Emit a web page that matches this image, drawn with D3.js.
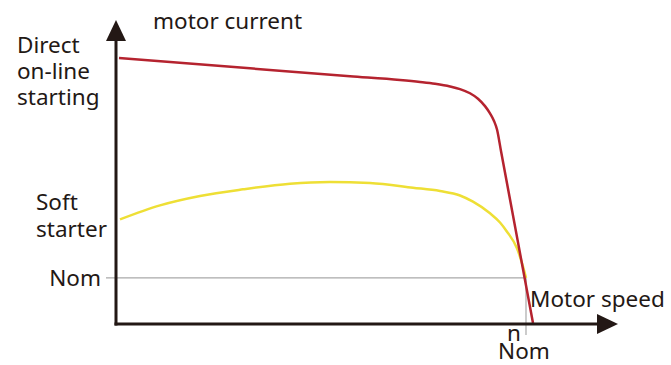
<!DOCTYPE html>
<html><head><meta charset="utf-8">
<script src="https://cdn.jsdelivr.net/npm/d3@7"></script>
<style>html,body{margin:0;padding:0;background:#fff;}svg{display:block;}text{font-family:"Noto Sans","Open Sans",sans-serif;fill:#231815;}</style>
</head><body>
<script>
// speed as fraction of nominal speed, current as multiple of nominal current
const directSpeed   = [0.0073, 0.3268, 0.5707, 0.6927, 0.7415, 0.7780, 0.8146, 0.8390, 0.8634, 0.8829, 0.9000, 0.9122, 0.9220, 0.9293, 0.9390, 1.0171];
const directCurrent = [5.775, 5.551, 5.379, 5.297, 5.254, 5.215, 5.158, 5.100, 5.009, 4.890, 4.730, 4.573, 4.408, 4.222, 3.756, 0.022];
const softSpeed   = [0.0098, 0.1073, 0.2049, 0.3098, 0.4244, 0.5220, 0.6195, 0.7244, 0.7902, 0.8390, 0.8707, 0.9122, 0.9366, 0.9537, 0.9780, 0.9927, 1.0];
const softCurrent = [2.271, 2.575, 2.779, 2.924, 3.046, 3.083, 3.061, 2.959, 2.887, 2.790, 2.655, 2.403, 2.204, 2.004, 1.644, 1.244, 1.0];
const yTickLabels = ["Nom"];
const xTickLabels = ["n", "Nom"];
const yTitle = "motor current";
const xTitle = "Motor speed";
const directLabel = ["Direct", "on-line", "starting"];
const softLabel = ["Soft", "starter"];

const W = 671, H = 365;
const x = d3.scaleLinear().domain([0, 1]).range([116, 526]);
const y = d3.scaleLinear().domain([0, 6.6]).range([324, 20]);
const xMax = x.invert(618);

const svg = d3.select("body").append("svg").attr("width", W).attr("height", H);
const ink = "#231815";

// nominal guide lines
svg.append("line").attr("x1", x(0) - 10).attr("x2", x(1)).attr("y1", y(1)).attr("y2", y(1))
  .attr("stroke", "#a9a9a9").attr("stroke-width", 1.2);
svg.append("line").attr("x1", x(1)).attr("x2", x(1)).attr("y1", y(1)).attr("y2", y(0) + 11)
  .attr("stroke", "#a9a9a9").attr("stroke-width", 1.2);

const line = d3.line().x(d => x(d[0])).y(d => y(d[1])).curve(d3.curveMonotoneX);
svg.append("path").datum(softSpeed.map((s, i) => [s, softCurrent[i]]))
  .attr("d", line).attr("fill", "none").attr("stroke", "#eedf35").attr("stroke-width", 2.5);
svg.append("path").datum(directSpeed.map((s, i) => [s, directCurrent[i]]))
  .attr("d", line).attr("fill", "none").attr("stroke", "#b5232f").attr("stroke-width", 2.5);

// axes
svg.append("line").attr("x1", x(0)).attr("x2", x(0)).attr("y1", y(0) + 1.5).attr("y2", y(6.6) + 18)
  .attr("stroke", ink).attr("stroke-width", 3);
svg.append("line").attr("x1", x(0) - 1.5).attr("x2", x(xMax) - 18).attr("y1", y(0)).attr("y2", y(0))
  .attr("stroke", ink).attr("stroke-width", 3);
svg.append("path").attr("d", `M${x(0)},${y(6.6)} L${x(0) - 10},${y(6.6) + 21} L${x(0) + 10},${y(6.6) + 21} Z`).attr("fill", ink);
svg.append("path").attr("d", `M${x(xMax)},${y(0)} L${x(xMax) - 21},${y(0) - 10} L${x(xMax) - 21},${y(0) + 10} Z`).attr("fill", ink);

const fs = 22.5;
svg.append("text").attr("x", 153).attr("y", 29).attr("font-size", fs).text(yTitle);
svg.append("text").attr("x", 530).attr("y", 307).attr("font-size", fs).text(xTitle);

function multiline(lines, x0, y0, dy, anchor, dxs) {
  const t = svg.append("text").attr("font-size", fs).attr("text-anchor", anchor);
  lines.forEach((s, i) => t.append("tspan").attr("x", x0 + (dxs ? dxs[i] : 0)).attr("y", y0 + i * dy).text(s));
  return t;
}
multiline(directLabel, 17, 53, 26, "start");
multiline(softLabel, 36, 210, 27, "start");
svg.append("text").attr("x", x(0) - 15).attr("y", y(1) + 8).attr("text-anchor", "end").attr("font-size", fs).text(yTickLabels[0]);
multiline(xTickLabels, x(1), 341, 18, "middle", [-12, -2]);
</script>
</body></html>
